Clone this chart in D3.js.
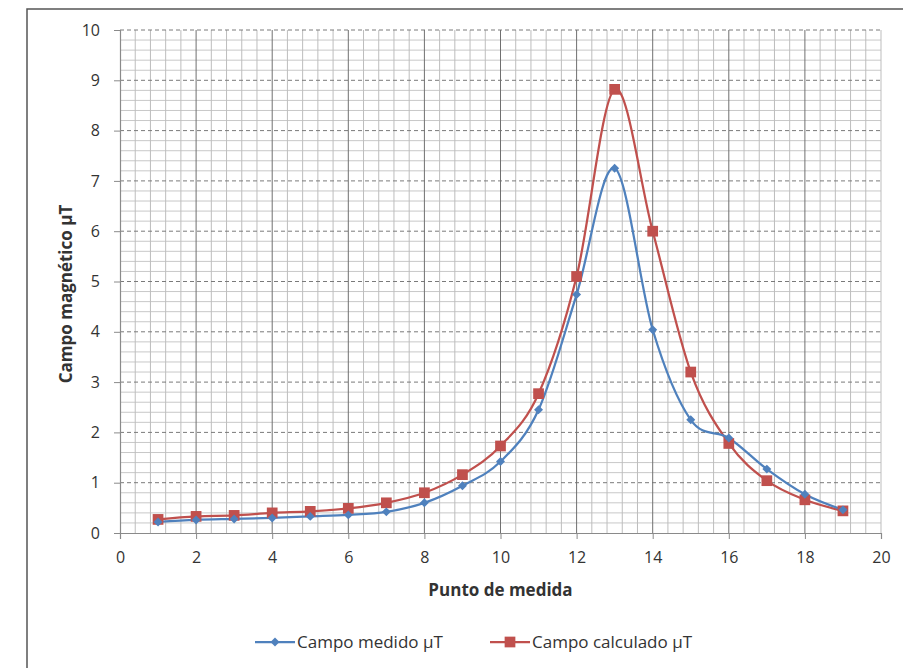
<!DOCTYPE html>
<html>
<head>
<meta charset="utf-8">
<script src="https://cdn.jsdelivr.net/npm/d3@7"></script>
<style>
  html, body { margin: 0; padding: 0; background: #fff; }
  svg { display: block; }
  text { font-family: "Open Sans", "Noto Sans", sans-serif; fill: #333; }
</style>
</head>
<body>
<svg id="chart" width="903" height="668"></svg>
<script>
// Measurement points along the line
const puntos = [1, 2, 3, 4, 5, 6, 7, 8, 9, 10, 11, 12, 13, 14, 15, 16, 17, 18, 19];
// Measured field (µT)
const campoMedido = [0.22, 0.26, 0.28, 0.30, 0.33, 0.36, 0.42, 0.60, 0.94, 1.42, 2.45, 4.74, 7.25, 4.04, 2.25, 1.89, 1.27, 0.77, 0.46];
// Calculated field (µT)
const campoCalculado = [0.27, 0.33, 0.35, 0.40, 0.43, 0.49, 0.60, 0.80, 1.16, 1.73, 2.77, 5.10, 8.82, 6.00, 3.20, 1.78, 1.04, 0.66, 0.44];

const xTicks = [0, 2, 4, 6, 8, 10, 12, 14, 16, 18, 20];
const yTicks = [0, 1, 2, 3, 4, 5, 6, 7, 8, 9, 10];
const seriesNames = ["Campo medido µT", "Campo calculado µT"];
const colors = ["#4F81BD", "#C0504D"];

const svg = d3.select("#chart");

// Chart frame
svg.append("rect")
  .attr("x", 27).attr("y", 9)
  .attr("width", 1000).attr("height", 1000)
  .attr("fill", "#fff").attr("stroke", "#555").attr("stroke-width", 1.5);

const plot = { left: 120, right: 881, top: 30, bottom: 533 };
const x = d3.scaleLinear().domain([0, 20]).range([plot.left, plot.right]);
const y = d3.scaleLinear().domain([0, 10]).range([plot.bottom, plot.top]);

const g = svg.append("g");

// Minor horizontal grid every 0.2
const minorY = d3.range(0.2, 10, 0.2).filter(v => Math.abs(v - Math.round(v)) > 1e-6);
g.selectAll("line.minorY").data(minorY).enter().append("line")
  .attr("x1", plot.left).attr("x2", plot.right)
  .attr("y1", d => y(d)).attr("y2", d => y(d))
  .attr("stroke", "#c8c8c8").attr("stroke-width", 1);

// Minor vertical grid every 0.4
const minorX = d3.range(0.4, 20.01, 0.4).filter(v => Math.abs(v / 2 - Math.round(v / 2)) > 1e-6);
g.selectAll("line.minorX").data(minorX).enter().append("line")
  .attr("x1", d => x(d)).attr("x2", d => x(d))
  .attr("y1", plot.top).attr("y2", plot.bottom)
  .attr("stroke", "#bdbdbd").attr("stroke-width", 1);

// Right edge of the plot grid
g.append("line")
  .attr("x1", plot.right).attr("x2", plot.right)
  .attr("y1", plot.top).attr("y2", plot.bottom)
  .attr("stroke", "#bdbdbd").attr("stroke-width", 1);

// Major horizontal grid (dashed)
g.selectAll("line.majorY").data(yTicks.filter(d => d > 0)).enter().append("line")
  .attr("x1", plot.left).attr("x2", plot.right)
  .attr("y1", d => y(d)).attr("y2", d => y(d))
  .attr("stroke", "#7a7a7a").attr("stroke-width", 1)
  .attr("stroke-dasharray", "4,3");

// Major vertical grid
g.selectAll("line.majorX").data(xTicks.filter(d => d > 0 && d < 20)).enter().append("line")
  .attr("x1", d => x(d)).attr("x2", d => x(d))
  .attr("y1", plot.top).attr("y2", plot.bottom)
  .attr("stroke", "#707070").attr("stroke-width", 1);

// Axes
const xAxis = d3.axisBottom(x).tickValues(xTicks).tickSize(6).tickPadding(13).tickFormat(d3.format("d"));
const yAxis = d3.axisLeft(y).tickValues(yTicks).tickSize(6).tickPadding(14).tickFormat(d3.format("d"));

const gx = svg.append("g").attr("transform", `translate(0,${plot.bottom})`).call(xAxis);
const gy = svg.append("g").attr("transform", `translate(${plot.left},0)`).call(yAxis);
[gx, gy].forEach(a => {
  a.select(".domain").attr("stroke", "#8a8a8a").attr("stroke-width", 1.2);
  a.selectAll(".tick line").attr("stroke", "#8a8a8a");
  a.selectAll(".tick text").style("font-size", "16px").attr("fill", "#333");
});

// Axis titles
svg.append("text")
  .attr("x", x(10)).attr("y", 596)
  .attr("text-anchor", "middle")
  .style("font-size", "17px").style("font-weight", "bold")
  .text("Punto de medida");
svg.append("text")
  .attr("transform", `translate(72,294) rotate(-90)`)
  .attr("text-anchor", "middle")
  .style("font-size", "17px").style("font-weight", "bold")
  .text("Campo magnético µT");

// Series
const seriesData = [campoMedido, campoCalculado];
const line = d3.line().x(d => x(d[0])).y(d => y(d[1])).curve(d3.curveCardinal.tension(0));
// Square rotated by 45 degrees
const rhombus = {
  draw(ctx, size) {
    const r = Math.sqrt(size / 2);
    ctx.moveTo(0, -r); ctx.lineTo(r, 0); ctx.lineTo(0, r); ctx.lineTo(-r, 0); ctx.closePath();
  }
};
const diamond = d3.symbol().type(rhombus).size(40);
const square = d3.symbol().type(d3.symbolSquare).size(115);

// Draw calculated first, measured on top at crossings
[1, 0].forEach(i => {
  const pts = puntos.map((p, k) => [p, seriesData[i][k]]);
  svg.append("path").datum(pts)
    .attr("d", line).attr("fill", "none")
    .attr("stroke", colors[i]).attr("stroke-width", 2.25);
});
[1, 0].forEach(i => {
  const pts = puntos.map((p, k) => [p, seriesData[i][k]]);
  svg.selectAll(null).data(pts).enter().append("path")
    .attr("d", i === 0 ? diamond : square)
    .attr("transform", d => `translate(${x(d[0])},${y(d[1])})`)
    .attr("fill", colors[i]);
});

// Legend
const legend = [
  { name: seriesNames[0], color: colors[0], sym: diamond, x0: 255 },
  { name: seriesNames[1], color: colors[1], sym: square, x0: 490 }
];
const lg = svg.append("g");
legend.forEach(l => {
  lg.append("line").attr("x1", l.x0).attr("x2", l.x0 + 40)
    .attr("y1", 642).attr("y2", 642)
    .attr("stroke", l.color).attr("stroke-width", 2.25);
  lg.append("path").attr("d", l.sym)
    .attr("transform", `translate(${l.x0 + 20},642)`)
    .attr("fill", l.color);
  lg.append("text").attr("x", l.x0 + 42).attr("y", 648)
    .style("font-size", "17px").text(l.name);
});
</script>
</body>
</html>
